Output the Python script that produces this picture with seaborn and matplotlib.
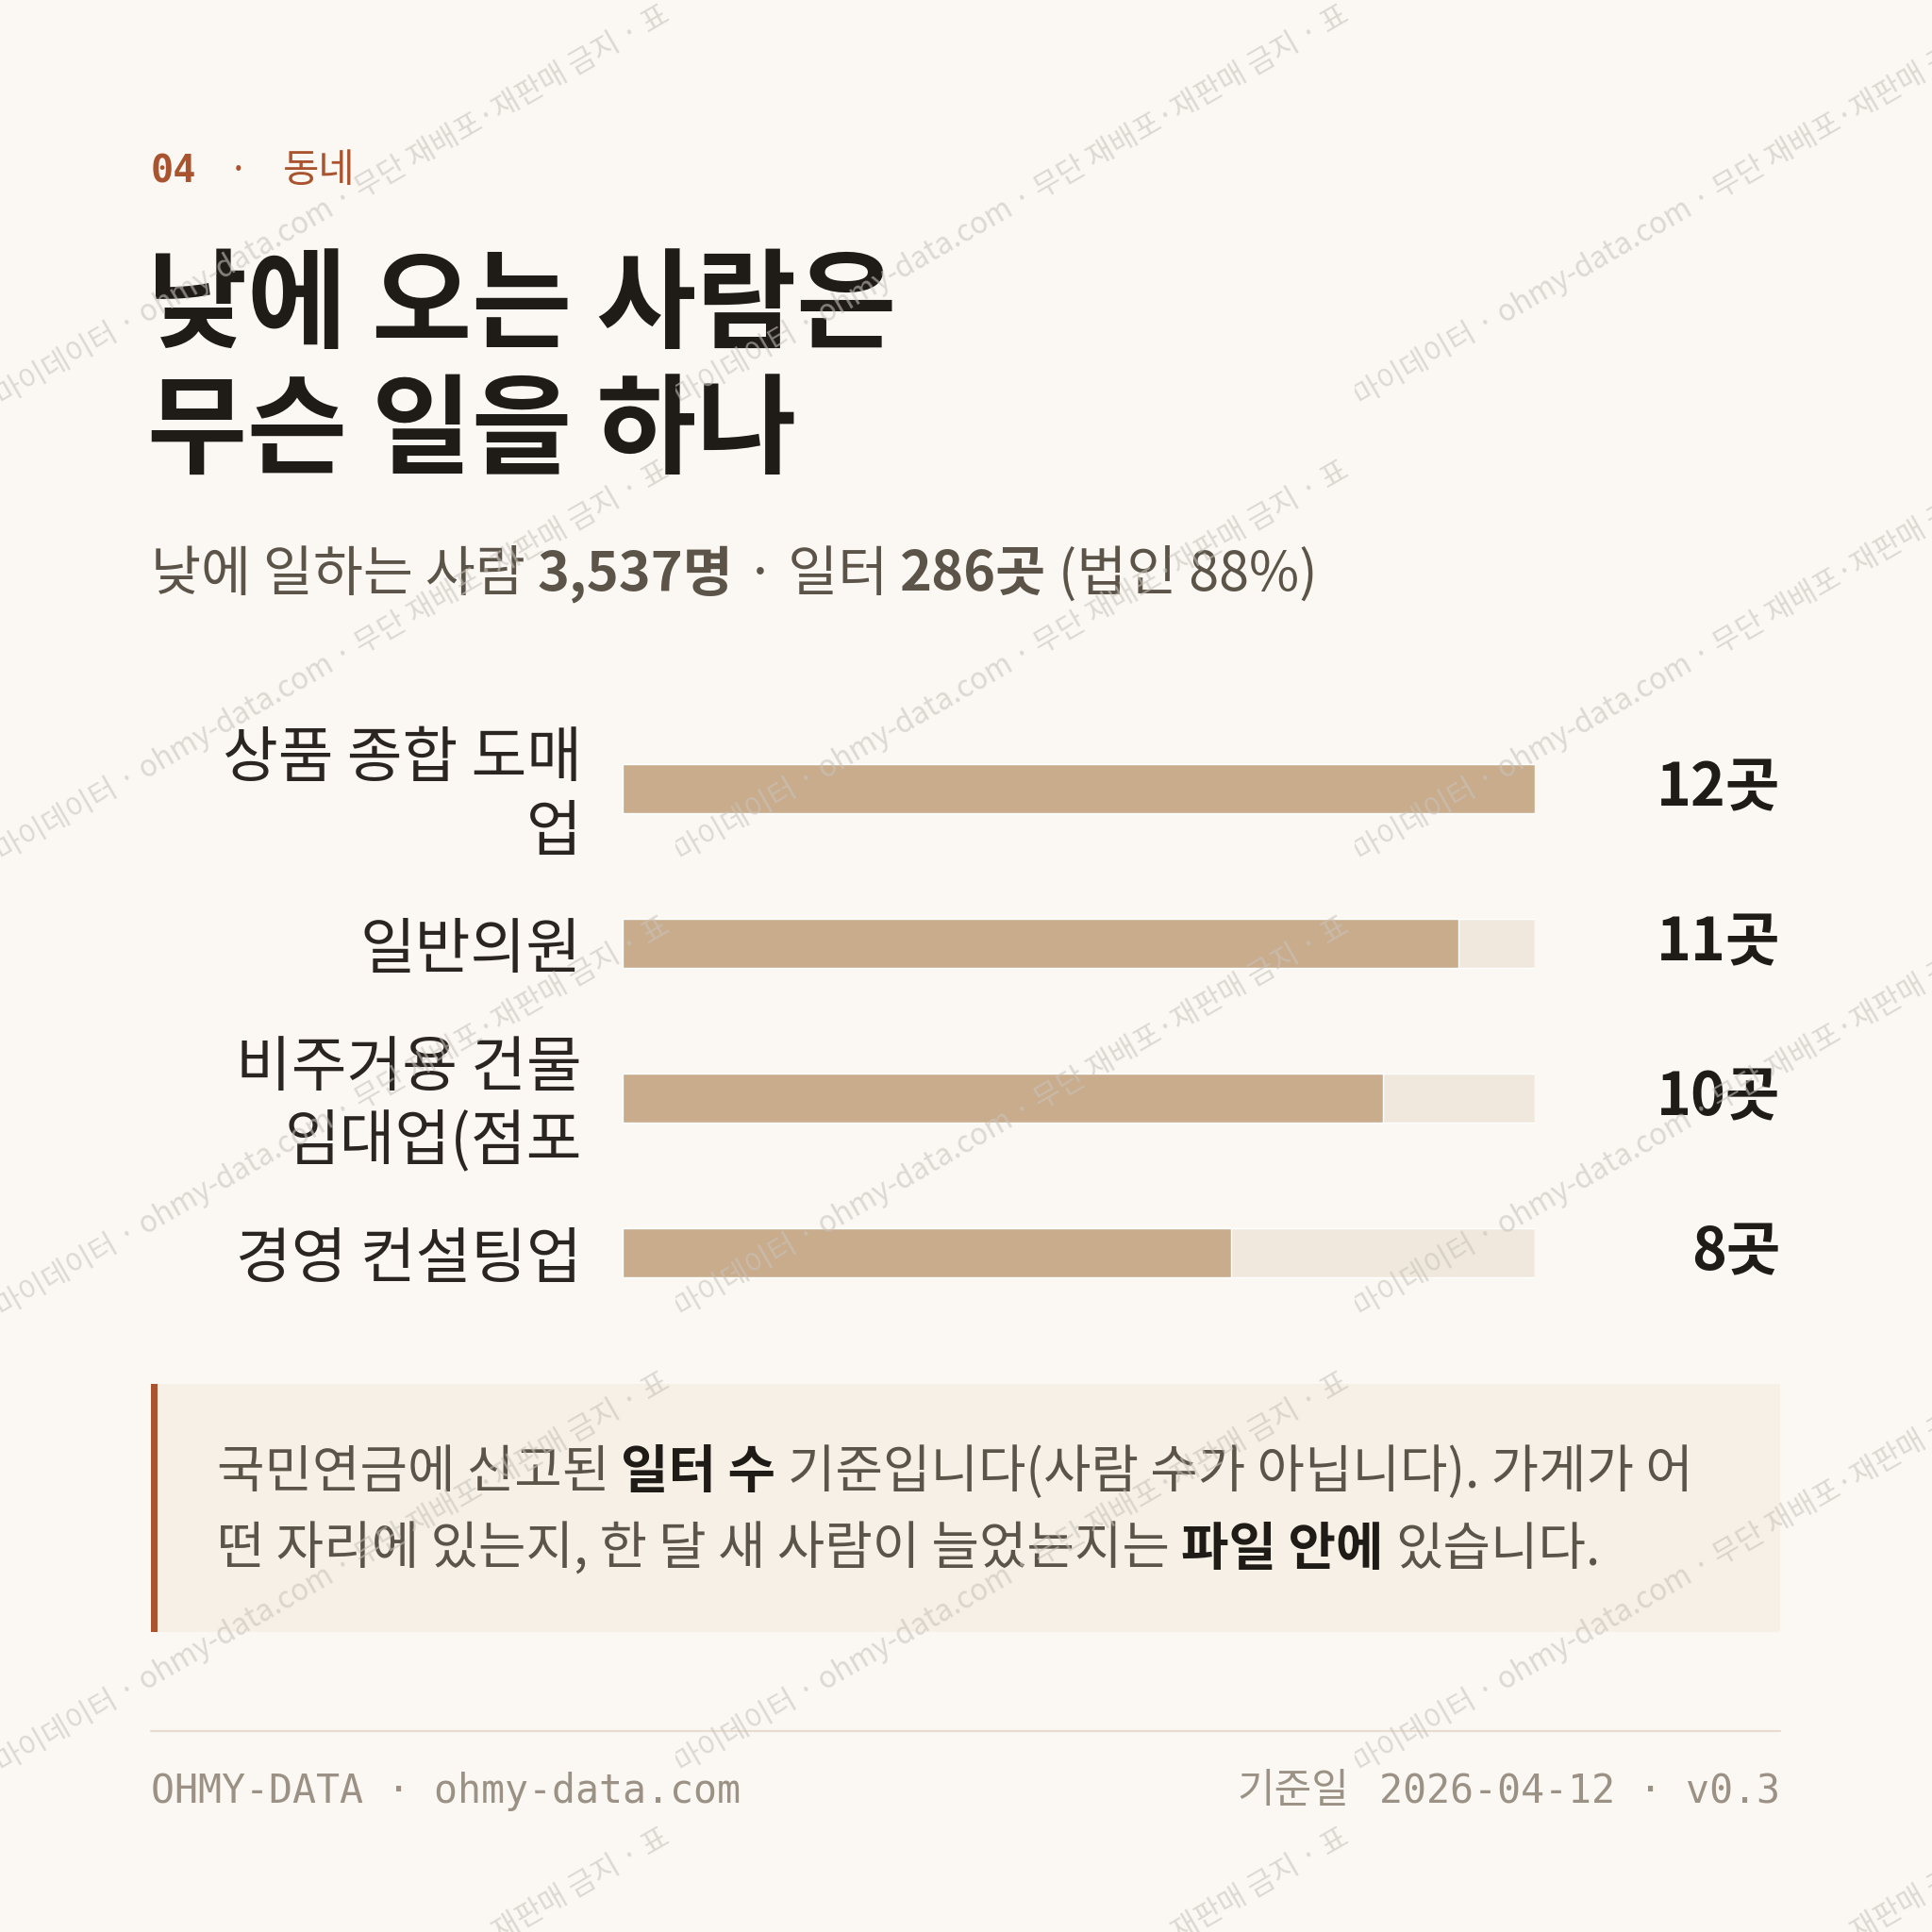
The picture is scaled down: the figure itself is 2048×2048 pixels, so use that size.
import numpy as np
import pandas as pd
import matplotlib
matplotlib.use("Agg")
import matplotlib.pyplot as plt
import seaborn as sns
from matplotlib.font_manager import FontProperties
from matplotlib.patches import Rectangle
from matplotlib.lines import Line2D
from matplotlib.transforms import Bbox, TransformedBbox, blended_transform_factory, ScaledTranslation

# ---------------- data ----------------
kicker_num = "04"
kicker_text = "동네"
title_lines = ["낮에 오는 사람은", "무슨 일을 하나"]
subtitle_segments = [("낮에 일하는 사람 ", "normal"), ("3,537명", "bold"),
                     (" · 일터 ", "normal"), ("286곳", "bold"), (" (법인 88%)", "normal")]
categories = ["상품 종합 도매\n업", "일반의원", "비주거용 건물\n임대업(점포", "경영 컨설팅업"]
counts = [12, 11, 10, 8]
value_unit = "곳"
note_line1 = [("국민연금에 신고된 ", "normal"), ("일터 수", "bold"),
              (" 기준입니다(사람 수가 아닙니다). 가게가 어", "normal")]
note_line2 = [("떤 자리에 있는지, 한 달 새 사람이 늘었는지는 ", "normal"), ("파일 안에", "bold"),
              (" 있습니다.", "normal")]
footer_left = "OHMY-DATA · ohmy-data.com"
footer_right_label = "기준일"
footer_right = "2026-04-12 · v0.3"
watermark = "마이데이터 · ohmy-data.com · 무단 재배포·재판매 금지 · 표"

# ---------------- style ----------------
BG = "#fbf8f3"
RUST = "#a9532f"
INK = "#1f1b17"
SUB = "#5c5449"
LABEL = "#2a2520"
BAR = "#c8ac8c"
TRACK = "#f0e8dc"
NOTE_BG = "#f6f0e6"
FOOT = "#9b9184"
RULE = "#e6ddd0"
KR = "Noto Sans CJK KR"
MONO = "DejaVu Sans Mono"

sns.set_theme(style="white")
plt.rcParams["font.family"] = [KR, "DejaVu Sans"]

W = H = 2048
fig = plt.figure(figsize=(W / 100, H / 100), dpi=100, facecolor=BG)
renderer = fig.canvas.get_renderer()


def fy(y):
    return 1 - y / H


_cache = {}


def measure(s, fp):
    def w(txt):
        t = fig.text(0, 0, txt, fontproperties=fp)
        ww = t.get_window_extent(renderer).width
        t.remove()
        return ww
    key = (fp.get_family()[0], fp.get_weight(), fp.get_size())
    if key not in _cache:
        _cache[key] = w("||")
    return w("|" + s + "|") - _cache[key]


def rich(x, y, segments, size, colors, family=KR, **kw):
    cur = x
    for (text, weight) in segments:
        fp = FontProperties(family=[family, "DejaVu Sans"], weight=weight, size=size)
        lead = len(text) - len(text.lstrip(" "))
        trail = len(text) - len(text.rstrip(" "))
        core = text.strip(" ")
        sw = measure(" ", fp)
        cur += lead * sw
        if core:
            fig.text(cur / W, fy(y), core, fontproperties=fp, color=colors[weight],
                     ha="left", va="baseline", **kw)
            cur += measure(core, fp)
        cur += trail * sw
    return cur


# ---------------- header ----------------
fig.text(160 / W, fy(193), kicker_num, family=MONO, weight="bold", size=29, color=RUST,
         ha="left", va="baseline")
fig.text(253 / W, fy(193), "·", family=[KR], size=28, color=RUST, ha="center", va="baseline")
fig.text(300 / W, fy(193), kicker_text, family=[KR], size=30, color=RUST, ha="left", va="baseline")

for i, line in enumerate(title_lines):
    fig.text(156 / W, fy(360 + i * 133), line, family=[KR], weight="bold", size=83,
             color=INK, ha="left", va="baseline")

rich(160, 626, subtitle_segments, 41.5, {"normal": SUB, "bold": SUB})

# ---------------- bars ----------------
df = pd.DataFrame({"category": categories, "count": counts})
df["track"] = df["count"].max()

ax = fig.add_axes([660 / W, fy(1410), 967 / W, 656 / H])
ax.set_facecolor("none")
sns.barplot(data=df, x="track", y="category", color=TRACK, saturation=1, width=0.315,
            errorbar=None, ax=ax, order=categories)
sns.barplot(data=df, x="count", y="category", color=BAR, saturation=1, width=0.315,
            errorbar=None, ax=ax, order=categories)
ax.set_xlim(0, df["count"].max())
ax.set_ylim(len(categories) - 0.5, -0.5)
for s in ax.spines.values():
    s.set_visible(False)
ax.set_xticks([])
ax.set_xlabel("")
ax.set_ylabel("")
ax.tick_params(axis="y", length=0, pad=31)
for lab in ax.get_yticklabels():
    lab.set_fontsize(46)
    lab.set_color(LABEL)
    lab.set_linespacing(1.22)
    lab.set_multialignment("right")
    if "\n" in lab.get_text():
        lab.set_transform(lab.get_transform() + ScaledTranslation(0, 4 / 72, fig.dpi_scale_trans))

vt = blended_transform_factory(ax.transAxes, ax.transData)
for i, v in enumerate(df["count"]):
    ax.text((1887 - 660) / 967, i, f"{v}{value_unit}", transform=vt, ha="right", va="center",
            size=45, weight="bold", color=INK, family=[KR])

# ---------------- note box ----------------
fig.patches.append(Rectangle((160 / W, fy(1730)), (1887 - 160) / W, (1730 - 1467) / H,
                             transform=fig.transFigure, facecolor=NOTE_BG, edgecolor="none", zorder=0))
fig.patches.append(Rectangle((160 / W, fy(1730)), 7 / W, (1730 - 1467) / H,
                             transform=fig.transFigure, facecolor=RUST, edgecolor="none", zorder=0))
rich(230, 1577, note_line1, 39.5, {"normal": SUB, "bold": INK})
rich(230, 1659, note_line2, 39.5, {"normal": SUB, "bold": INK})

# ---------------- footer ----------------
fig.add_artist(Line2D([160 / W, 1887 / W], [fy(1835), fy(1835)], color=RULE, lw=1.6,
                      transform=fig.transFigure))
fig.text(160 / W, fy(1911), footer_left, family=MONO, size=30, color=FOOT, ha="left", va="baseline")
fpm = FontProperties(family=MONO, size=30)
wr = measure(footer_right, fpm)
fig.text(1887 / W, fy(1911), footer_right, fontproperties=fpm, color=FOOT, ha="right", va="baseline")
fig.text((1887 - wr - 32) / W, fy(1911), footer_right_label, family=[KR], size=31, color=FOOT,
         ha="right", va="baseline")

# ---------------- watermark ----------------
tile_w, tile_h = 720, 483
for col in range(3):
    x0 = -4 + col * tile_w
    for row in range(0, 5):
        yb = 431 + row * tile_h
        t = fig.text((x0 + 6) / W, fy(yb), watermark, family=[KR, "DejaVu Sans"], size=22.5,
                     color="#c8c3bc", alpha=0.6, rotation=30, rotation_mode="anchor",
                     ha="left", va="baseline", zorder=10)
        clip = TransformedBbox(Bbox.from_extents(x0 / W, fy(yb + 14), (x0 + tile_w) / W, fy(yb - 470)),
                               fig.transFigure)
        t.set_clip_box(clip)
        t.set_clip_on(True)

fig.savefig("out.png", dpi=100, facecolor=BG)
